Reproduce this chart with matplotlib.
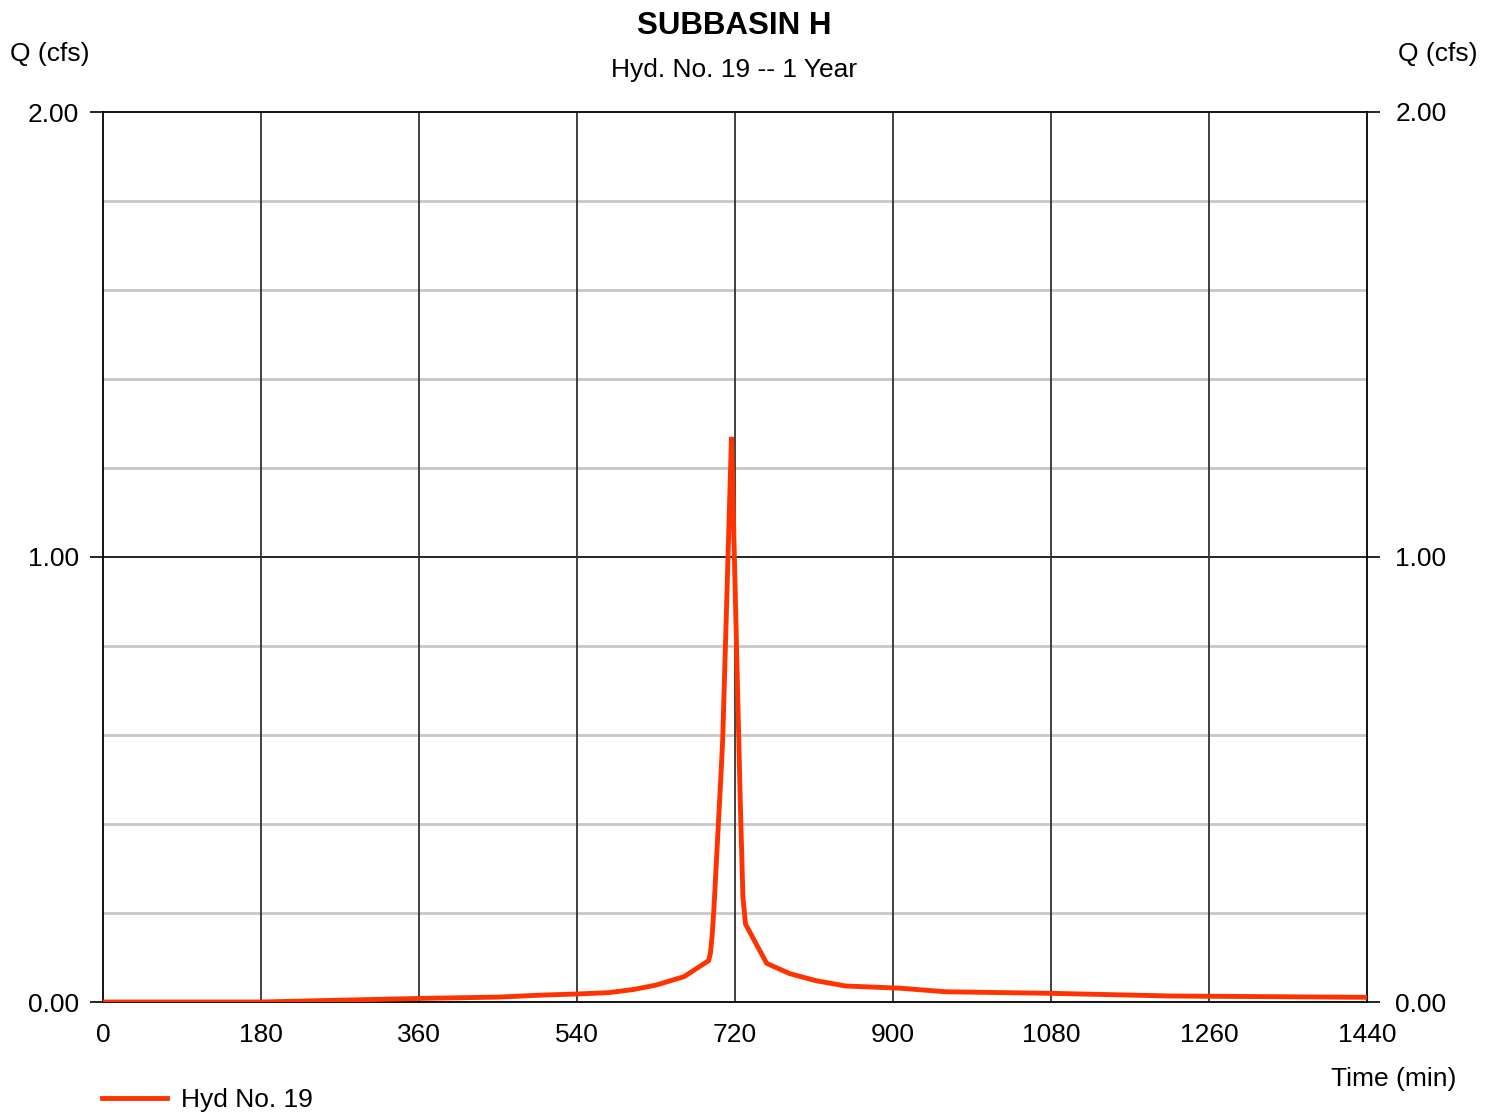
import matplotlib
matplotlib.use("Agg")
import matplotlib.pyplot as plt

plt.rcParams['font.family'] = ['Liberation Sans', 'DejaVu Sans']

title = "SUBBASIN H"
subtitle = "Hyd. No. 19 -- 1 Year"
series_name = "Hyd No. 19"
x_ticks = [0, 180, 360, 540, 720, 900, 1080, 1260, 1440]
y_major = [0.0, 1.0, 2.0]
y_minor = [0.2, 0.4, 0.6, 0.8, 1.2, 1.4, 1.6, 1.8]

time_min = [0, 180, 360, 450, 500, 540, 576, 604, 630, 662, 690, 692, 694,
            696, 700, 704, 706, 716, 726, 729, 732, 756, 782, 812, 846,
            908, 960, 1080, 1216, 1440]
q_cfs = [0.0, 0.0, 0.008, 0.011, 0.0155, 0.018, 0.021, 0.028, 0.038, 0.057,
         0.093, 0.11, 0.15, 0.21, 0.36, 0.51, 0.59, 1.27, 0.45, 0.236, 0.175,
         0.087, 0.064, 0.048, 0.036, 0.031, 0.023, 0.0195, 0.0135, 0.0105]

FS = 19

fig = plt.figure(figsize=(14.94, 11.12), dpi=100)
ax = fig.add_axes([103/1494, 110/1112, 1264/1494, 890/1112])
ax.set_xlim(0, 1440)
ax.set_ylim(0, 2.0)

for yv in y_minor:
    ax.axhline(yv, color='#c8c8c8', lw=2.0, zorder=1)
ax.axhline(1.0, color='black', lw=1.2, zorder=1.5)
for xv in x_ticks[1:-1]:
    ax.axvline(xv, color='#333333', lw=1.3, zorder=1.5)

ax.plot(time_min, q_cfs, color='#ff3300', lw=3.5, zorder=3,
        solid_joinstyle='miter', label=series_name)

for s in ax.spines.values():
    s.set_color('black')
    s.set_linewidth(1.3)

ax.set_xticks(x_ticks)
ax.set_xticklabels([str(v) for v in x_ticks])
ax.set_yticks(y_major)
ax.set_yticklabels([f"{v:.2f}" for v in y_major])
ax.tick_params(axis='x', length=0, pad=15, labelsize=FS)
ax.tick_params(axis='y', length=9.4, width=1.2, pad=8, labelsize=FS,
               left=True, labelleft=True, right=False, labelright=False)

axr = ax.twinx()
axr.set_ylim(0, 2.0)
axr.set_yticks(y_major)
axr.set_yticklabels([f"{v:.2f}" for v in y_major])
axr.tick_params(axis='y', length=9.4, width=1.2, pad=11, labelsize=FS)
for s in axr.spines.values():
    s.set_visible(False)

fig.text(734/1494, 1 - 26/1112, title, ha='center', va='center',
         fontsize=22.5, fontweight='bold')
fig.text(734/1494, 1 - 70/1112, subtitle, ha='center', va='center',
         fontsize=FS)
fig.text(10/1494, 1 - 54/1112, "Q (cfs)", ha='left', va='center', fontsize=FS)
fig.text(1477/1494, 1 - 54/1112, "Q (cfs)", ha='right', va='center', fontsize=FS)
fig.text(1456/1494, 1 - 1079/1112, "Time (min)", ha='right', va='center',
         fontsize=FS)

fig.legend(loc='center left', bbox_to_anchor=(102/1494, 1 - 1100/1112),
           frameon=False, fontsize=FS, handlelength=2.47, handletextpad=0.53,
           borderpad=0, borderaxespad=0)

fig.savefig("out.png", dpi=100)
